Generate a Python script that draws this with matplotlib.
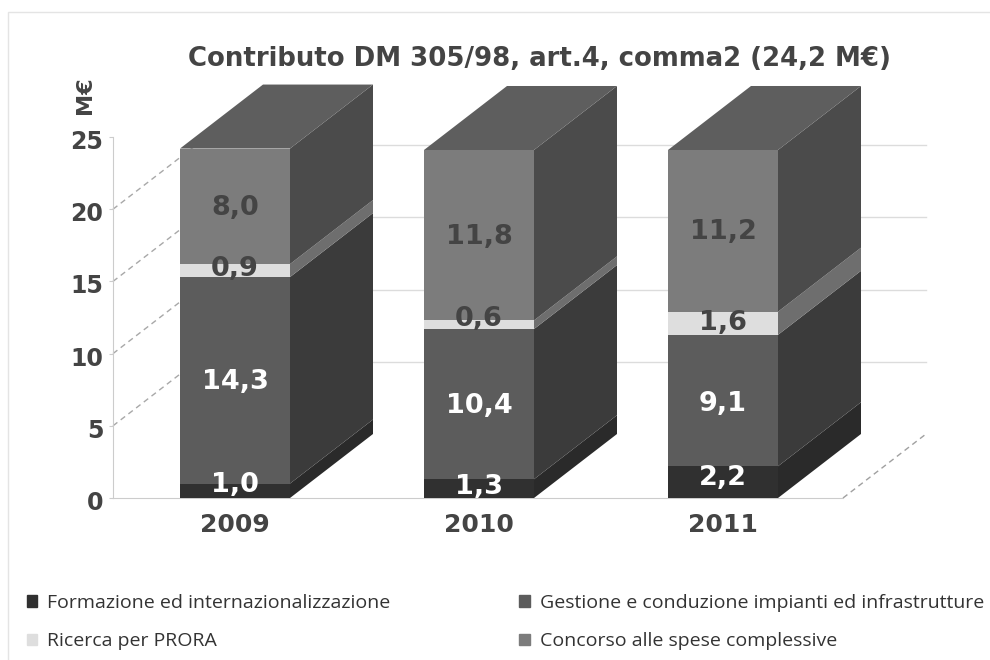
import matplotlib
matplotlib.use('Agg')
import matplotlib.pyplot as plt
from matplotlib.patches import Patch, Polygon, Rectangle
from matplotlib.transforms import ScaledTranslation

plt.rcParams['font.family'] = ['DejaVu Sans']

years = ['2009', '2010', '2011']
series = ['Formazione ed internazionalizzazione',
          'Gestione e conduzione impianti ed infrastrutture',
          'Ricerca per PRORA',
          'Concorso alle spese complessive']
formazione = [1.0, 1.3, 2.2]
gestione = [14.3, 10.4, 9.1]
ricerca = [0.9, 0.6, 1.6]
concorso = [8.0, 11.8, 11.2]
y_ticks = [0, 5, 10, 15, 20, 25]

front_colors = ['#303030', '#5c5c5c', '#dedede', '#7c7c7c']
side_colors = ['#2a2a2a', '#3b3b3b', '#6e6e6e', '#4b4b4b']
top_color = '#5e5e5e'
text_dark = '#444444'
label_colors = ['white', 'white', text_dark, text_dark]
# labels are not all centred in the original, small shift in value units
label_nudge = [[0.6, 0.1, 0.3, 0.1], [0.3, 0.1, 0.6, 0.1], [0.5, 0.0, 0.2, 0.1]]

W, H = 990, 660
fig = plt.figure(figsize=(W / 100, H / 100), dpi=100)
fig.patches.append(Rectangle((8 / W, -0.01), 1, 1 - 12 / H + 0.01, transform=fig.transFigure,
                             fill=False, ec='#e4e4e4', lw=1))

# axes box in pixels: left 113, right 843, y=0 at 498, y=25 at 137
ax = fig.add_axes([113 / W, (H - 498) / H, 730 / W, 361 / H])
ax.set_facecolor('none')
px_x = 244.0                  # pixels per category
px_y = 361.0 / 25             # pixels per value unit
ax.set_xlim((113 - 235) / px_x, (843 - 235) / px_x)
ax.set_ylim(0, 25)
depth_x = 83 / px_x
depth_y = 64 / px_y
bar_w = 110 / px_x

# back wall grid and the dashed lines on the side wall
x_left, x_right = ax.get_xlim()
for t in y_ticks[1:-1]:
    ax.plot([x_left + depth_x, x_right + depth_x], [t + depth_y, t + depth_y],
            color='#dcdcdc', lw=1, zorder=1, clip_on=False)
    ax.plot([x_left, x_left + depth_x], [t, t + depth_y], color='#a8a8a8', lw=1,
            ls=(0, (4, 3)), zorder=1, clip_on=False)
ax.plot([x_right, x_right + depth_x], [0, depth_y], color='#a0a0a0', lw=1,
        ls=(0, (4, 3)), zorder=1, clip_on=False)

values = [formazione, gestione, ricerca, concorso]
for i, year in enumerate(years):
    bottom = 0
    x0 = i - bar_w / 2
    x1 = i + bar_w / 2
    for s in range(4):
        v = values[s][i]
        ax.bar(i, v, width=bar_w, bottom=bottom, color=front_colors[s], lw=0, zorder=3)
        ax.add_patch(Polygon([(x1, bottom), (x1 + depth_x, bottom + depth_y),
                              (x1 + depth_x, bottom + v + depth_y), (x1, bottom + v)],
                             closed=True, fc=side_colors[s], ec='none', zorder=3, clip_on=False))
        ax.text(i, bottom + v / 2 + label_nudge[i][s], ('%.1f' % v).replace('.', ','),
                ha='center', va='center_baseline', fontsize=19.5, fontweight='bold',
                color=label_colors[s], zorder=5)
        bottom += v
    ax.add_patch(Polygon([(x0, bottom), (x1, bottom), (x1 + depth_x, bottom + depth_y),
                          (x0 + depth_x, bottom + depth_y)],
                         closed=True, fc=top_color, ec='none', zorder=3, clip_on=False))

ax.set_xticks(range(3))
ax.set_xticklabels(years, fontsize=18, fontweight='bold', color=text_dark)
ax.set_yticks(y_ticks)
ax.set_yticklabels([str(t) for t in y_ticks], fontsize=17, fontweight='bold', color=text_dark)
ax.tick_params(axis='x', length=0, pad=11)
ax.tick_params(axis='y', length=3, color='#cccccc', pad=4)
# y labels sit a little under their ticks
shift = ScaledTranslation(0, -2.5 / 100, fig.dpi_scale_trans)
for lab in ax.get_yticklabels():
    lab.set_transform(lab.get_transform() + shift)
for side in ['top', 'right']:
    ax.spines[side].set_visible(False)
for side in ['left', 'bottom']:
    ax.spines[side].set_color('#cccccc')

fig.text(540 / W, 1 - 59 / H, 'Contributo DM 305/98, art.4, comma2 (24,2 M€)',
         ha='center', va='center', fontsize=18.75, fontweight='bold', color=text_dark)
fig.text(85 / W, 1 - 95 / H, 'M€', rotation=90, ha='center', va='center',
         fontsize=16, fontweight='bold', color=text_dark)

handles = [Patch(color=front_colors[0]), Patch(color=front_colors[2]),
           Patch(color=front_colors[1]), Patch(color=front_colors[3])]
labels = [series[0], series[2], series[1], series[3]]
fig.legend(handles, labels, ncol=2, loc='lower left', bbox_to_anchor=(9 / W, -8 / H),
           frameon=False, prop={'family': 'Open Sans', 'size': 14},
           labelcolor='#333333', handlelength=0.55, handleheight=0.55, handletextpad=0.5,
           columnspacing=6.65, labelspacing=1.05)

fig.savefig('out.png', dpi=100)
